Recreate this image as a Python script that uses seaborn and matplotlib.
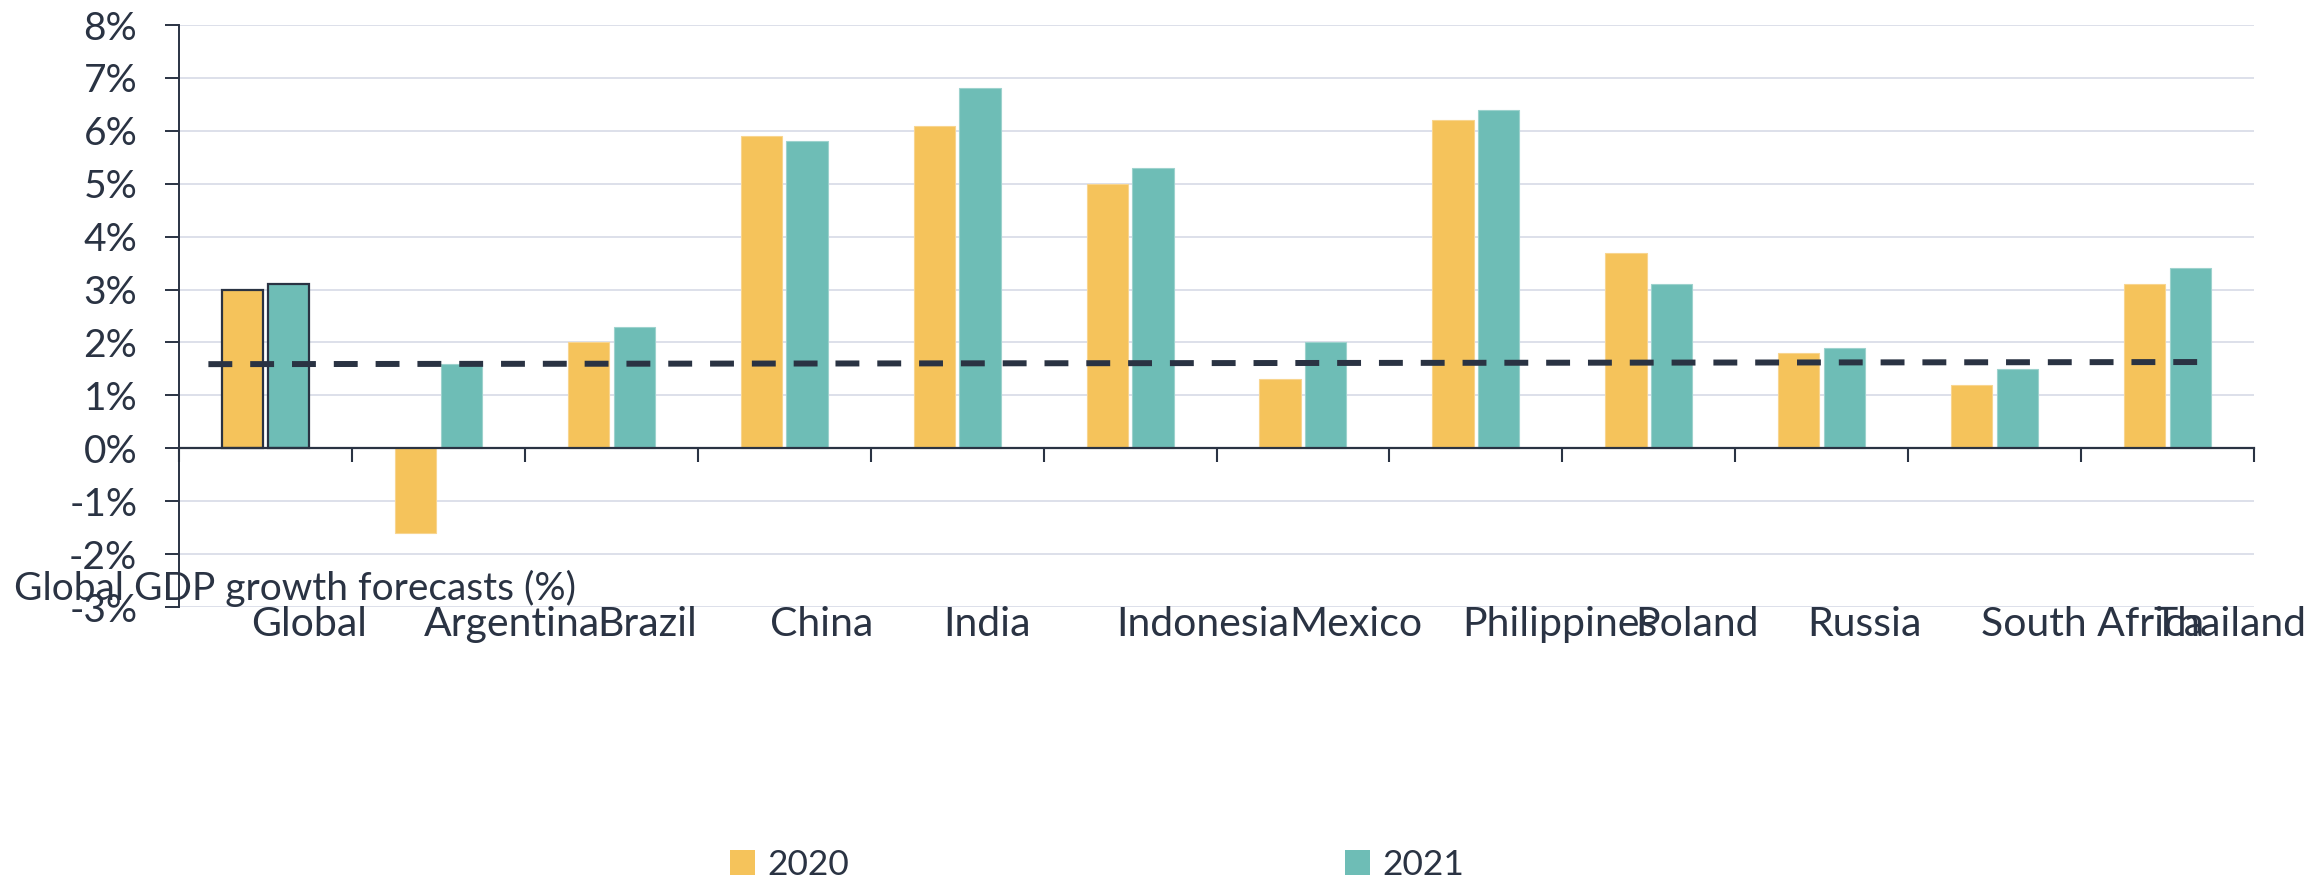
import matplotlib
matplotlib.use("Agg")
import matplotlib.pyplot as plt
import matplotlib.transforms as mtransforms
from matplotlib.patches import Patch
import pandas as pd
import seaborn as sns

# GDP growth forecasts by economy
countries = ["Global", "Argentina", "Brazil", "China", "India", "Indonesia",
             "Mexico", "Philippines", "Poland", "Russia", "South Africa", "Thailand"]
growth_2020 = [3.0, -1.6, 2.0, 5.9, 6.1, 5.0, 1.3, 6.2, 3.7, 1.8, 1.2, 3.1]
growth_2021 = [3.1, 1.6, 2.3, 5.8, 6.8, 5.3, 2.0, 6.4, 3.1, 1.9, 1.5, 3.4]
years = ["2020", "2021"]
# reference level (start, end) drawn as a dashed line across the chart
reference_level = [1.59, 1.63]
y_ticks = list(range(-3, 9))
y_labels = [f"{v}%" for v in y_ticks]
axis_title = "Global GDP growth forecasts (%)"

TEXT = "#2a3343"
COLORS = {"2020": "#f5c35b", "2021": "#6ebdb6"}
EDGES = {"2020": "#f8d58f", "2021": "#9dd2cd"}
GRID = "#dde0ea"

df = pd.DataFrame({
    "country": countries * 2,
    "year": [years[0]] * len(countries) + [years[1]] * len(countries),
    "growth": growth_2020 + growth_2021,
})

sns.set_theme(style="white")
plt.rcParams["font.family"] = ["Lato", "DejaVu Sans"]
plt.rcParams["text.color"] = TEXT

W, H = 2315, 881
fig = plt.figure(figsize=(W / 100, H / 100), dpi=100)
ax = fig.add_axes([179 / W, 1 - 607 / H, (2254 - 179) / W, (607 - 25) / H])

sns.barplot(data=df, x="country", y="growth", hue="year", order=countries,
            hue_order=years, palette=COLORS, width=0.53, gap=0.1,
            saturation=1, legend=False, ax=ax)

# outline the Global bars, soft edges elsewhere
n = len(countries)
for i, bar in enumerate(ax.patches[: 2 * n]):
    yr = years[i // n]
    if i % n == 0:
        bar.set_edgecolor(TEXT)
        bar.set_linewidth(1.6)
    else:
        bar.set_edgecolor(EDGES[yr])
        bar.set_linewidth(0.8)

ax.plot([0 - 0.33, (n - 1) + 0.23], reference_level, color=TEXT, lw=4.3,
        linestyle=(0, (4, 3)), dash_capstyle="butt", zorder=5)

ax.set_xlim(-0.5, n - 0.5)
ax.set_ylim(y_ticks[0], y_ticks[-1])
ax.set_yticks(y_ticks)
ax.set_yticklabels(y_labels)
ax.yaxis.grid(True, color=GRID, lw=1.4)
ax.set_axisbelow(True)
ax.set_xlabel("")
ax.set_ylabel("")

for s in ["top", "right"]:
    ax.spines[s].set_visible(False)
ax.spines["left"].set_color(TEXT)
ax.spines["left"].set_linewidth(1.4)
ax.spines["bottom"].set_position(("data", 0))
ax.spines["bottom"].set_color(TEXT)
ax.spines["bottom"].set_linewidth(1.6)

ax.set_xticks([i - 0.5 for i in range(n + 1)])
ax.set_xticklabels([])
ax.tick_params(axis="x", direction="out", length=10, width=1.5, color=TEXT, bottom=True)
ax.tick_params(axis="y", direction="out", length=10, width=1.4, color=TEXT,
               left=True, pad=20, labelsize=28, labelcolor=TEXT)

# category names, left-aligned just before each group centre
lab_tf = mtransforms.blended_transform_factory(ax.transData, ax.transAxes)
lab_tf = lab_tf + mtransforms.ScaledTranslation(-14 / 100, 0, fig.dpi_scale_trans)
for i, name in enumerate(countries):
    ax.text(i, -0.05, name, transform=lab_tf, ha="left", va="baseline",
            fontsize=29.5, color=TEXT, clip_on=False)

fig.text(14 / W, 1 - 600 / H, axis_title, ha="left", va="baseline",
         fontsize=28, color=TEXT)

handles = [Patch(facecolor=COLORS[y], edgecolor="none", label=y) for y in years]
fig.legend(handles=handles, loc="center left", ncol=2, frameon=False,
           bbox_to_anchor=(730 / W, 1 - 865 / H), fontsize=25.5,
           handlelength=0.7, handleheight=0.7, handletextpad=0.35,
           columnspacing=14.0, borderaxespad=0, borderpad=0)

fig.savefig("out.png", dpi=100, facecolor="white")
